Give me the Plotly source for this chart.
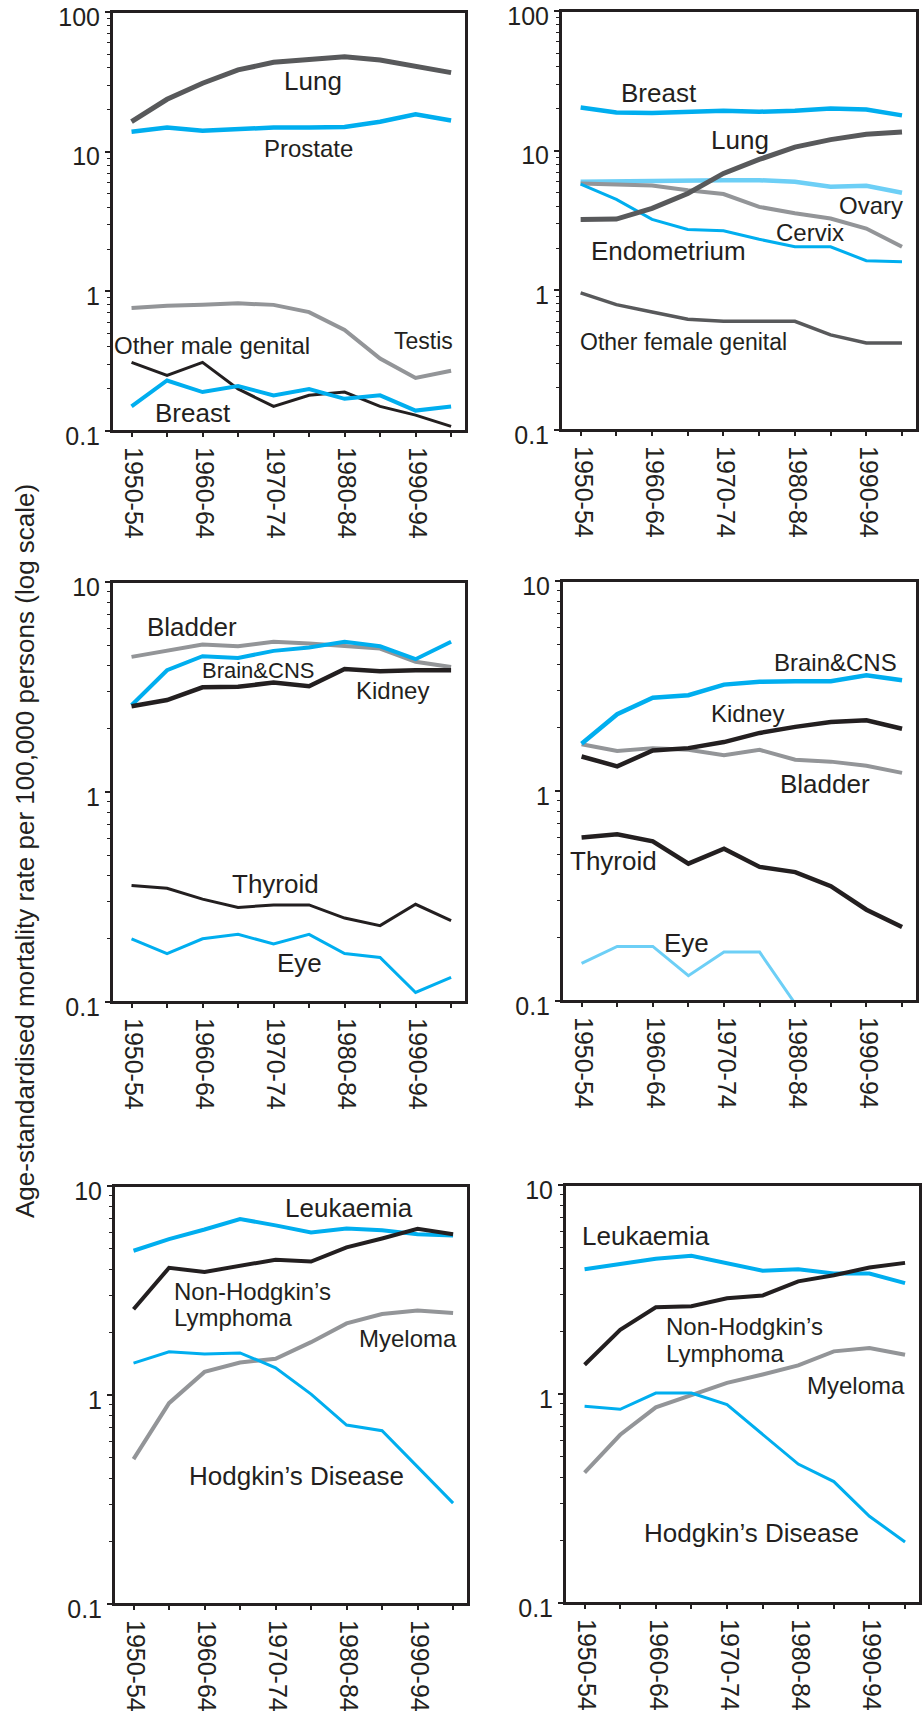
import plotly.graph_objects as go

# ---------------- data ----------------
periods = ["1950-54", "1955-59", "1960-64", "1965-69", "1970-74",
           "1975-79", "1980-84", "1985-89", "1990-94", "1995-99"]
period_labels = ["1950-54", "", "1960-64", "", "1970-74", "", "1980-84", "", "1990-94", ""]

# Panel 1 - males, genital / lung / breast
male_lung = [16.4, 23.7, 30.9, 38.5, 43.6, 45.8, 47.9, 45.3, 41.0, 36.8]
male_prostate = [13.9, 14.9, 14.1, 14.5, 14.9, 14.9, 15.0, 16.4, 18.5, 16.7]
male_testis = [0.76, 0.79, 0.80, 0.82, 0.80, 0.71, 0.53, 0.33, 0.24, 0.27]
male_other_genital = [0.31, 0.25, 0.31, 0.20, 0.15, 0.18, 0.19, 0.15, 0.13, 0.108]
male_breast = [0.15, 0.23, 0.19, 0.21, 0.18, 0.20, 0.17, 0.18, 0.14, 0.15]

# Panel 2 - females, genital / lung / breast
female_breast = [20.4, 18.8, 18.6, 19.0, 19.3, 19.0, 19.3, 20.0, 19.7, 17.9]
female_lung = [3.22, 3.24, 3.86, 4.94, 6.87, 8.65, 10.6, 12.0, 13.1, 13.6]
female_ovary = [5.98, 6.05, 6.12, 6.15, 6.15, 6.15, 5.98, 5.51, 5.60, 4.99]
female_cervix = [5.82, 5.75, 5.64, 5.21, 4.89, 3.96, 3.56, 3.27, 2.77, 2.05]
female_endometrium = [5.75, 4.48, 3.22, 2.73, 2.67, 2.32, 2.05, 2.05, 1.63, 1.60]
female_other_genital = [0.96, 0.79, 0.70, 0.62, 0.60, 0.60, 0.60, 0.48, 0.42, 0.42]

# Panel 3 - males, urinary / brain / thyroid / eye
male_bladder = [4.40, 4.70, 5.04, 4.94, 5.19, 5.09, 4.94, 4.82, 4.17, 3.94]
male_brain = [2.59, 3.80, 4.43, 4.35, 4.70, 4.88, 5.19, 4.94, 4.29, 5.19]
male_kidney = [2.56, 2.74, 3.15, 3.17, 3.32, 3.19, 3.85, 3.76, 3.80, 3.80]
male_thyroid = [0.359, 0.348, 0.309, 0.282, 0.290, 0.290, 0.251, 0.231, 0.292, 0.244]
male_eye = [0.200, 0.170, 0.200, 0.210, 0.189, 0.210, 0.170, 0.163, 0.111, 0.131]

# Panel 4 - females, urinary / brain / thyroid / eye
female_brain = [1.68, 2.32, 2.78, 2.86, 3.21, 3.31, 3.33, 3.33, 3.56, 3.37]
female_kidney = [1.46, 1.31, 1.56, 1.60, 1.71, 1.89, 2.02, 2.13, 2.17, 1.98]
female_bladder = [1.67, 1.55, 1.60, 1.57, 1.48, 1.57, 1.41, 1.38, 1.32, 1.22]
female_thyroid = [0.600, 0.622, 0.576, 0.451, 0.531, 0.435, 0.411, 0.352, 0.272, 0.225]
female_eye = [0.151, 0.182, 0.182, 0.132, 0.171, 0.171, 0.097, None, None, None]

# Panel 5 - males, haematological
male_leukaemia = [4.90, 5.57, 6.19, 6.95, 6.48, 6.00, 6.26, 6.14, 5.88, 5.79]
male_nhl = [2.57, 4.06, 3.88, 4.16, 4.44, 4.35, 5.09, 5.61, 6.24, 5.88]
male_myeloma = [0.493, 0.914, 1.29, 1.43, 1.49, 1.79, 2.20, 2.44, 2.54, 2.47]
male_hodgkin = [1.42, 1.61, 1.57, 1.59, 1.35, 1.01, 0.718, 0.675, 0.453, 0.304]

# Panel 6 - females, haematological
female_leukaemia = [3.95, 4.20, 4.44, 4.58, 4.20, 3.89, 3.95, 3.77, 3.77, 3.39]
female_nhl = [1.38, 2.03, 2.60, 2.63, 2.87, 2.96, 3.46, 3.70, 4.03, 4.24]
female_myeloma = [0.421, 0.638, 0.863, 0.993, 1.13, 1.24, 1.37, 1.60, 1.66, 1.54]
female_hodgkin = [0.873, 0.845, 1.01, 1.01, 0.889, 0.638, 0.462, 0.381, 0.260, 0.196]

y_title = "Age-standardised mortality rate per 100,000 persons (log scale)"

# ---------------- styles ----------------
W, H = 922, 1717
DARK = "#58595b"
CYAN = "#00aeef"
LCYAN = "#6dcff6"
GREY = "#939598"
BLACK = "#231f20"
FONT = "Liberation Sans, Arial, sans-serif"

# panel boxes in pixels: left, right, top, bottom, y-range (log10)
panels = [
    (112, 466, 12, 431, [-1, 2]),
    (561, 917, 11, 430, [-1, 2]),
    (112, 466, 582, 1002, [-1, 1]),
    (562, 917, 581, 1001, [-1, 1]),
    (114, 468, 1186, 1604, [-1, 1]),
    (565, 920, 1185, 1603, [-1, 1]),
]

# (panel, values, colour, width)
series = [
    (1, male_lung, DARK, 5), (1, male_prostate, CYAN, 4.5), (1, male_testis, GREY, 4),
    (1, male_other_genital, BLACK, 3), (1, male_breast, CYAN, 4),
    (2, female_breast, CYAN, 4.5), (2, female_ovary, LCYAN, 4.5), (2, female_cervix, GREY, 4),
    (2, female_endometrium, CYAN, 3), (2, female_lung, DARK, 5), (2, female_other_genital, DARK, 3.5),
    (3, male_bladder, GREY, 4), (3, male_brain, CYAN, 4), (3, male_kidney, BLACK, 4.5),
    (3, male_thyroid, BLACK, 3), (3, male_eye, CYAN, 3),
    (4, female_bladder, GREY, 4), (4, female_kidney, BLACK, 4.5), (4, female_brain, CYAN, 4.5),
    (4, female_thyroid, BLACK, 4.5), (4, female_eye, LCYAN, 3),
    (5, male_leukaemia, CYAN, 4), (5, male_myeloma, GREY, 4), (5, male_nhl, BLACK, 4),
    (5, male_hodgkin, CYAN, 3),
    (6, female_leukaemia, CYAN, 4), (6, female_myeloma, GREY, 4), (6, female_nhl, BLACK, 4),
    (6, female_hodgkin, CYAN, 3),
]

# (panel, text, x index, log10 y, font size, xanchor)
labels = [
    (1, "Lung", 5.11, 1.505, 26, "center"),
    (1, "Prostate", 4.97, 1.021, 24, "center"),
    (1, "Testis", 8.22, -0.352, 23, "center"),
    (1, "Other male genital", 2.27, -0.389, 24, "center"),
    (1, "Breast", 1.73, -0.869, 26, "center"),
    (2, "Breast", 2.19, 1.415, 26, "center"),
    (2, "Lung", 4.47, 1.077, 26, "center"),
    (2, "Ovary", 8.12, 0.608, 24, "center"),
    (2, "Cervix", 6.41, 0.411, 24, "center"),
    (2, "Endometrium", 2.46, 0.285, 26, "center"),
    (2, "Other female genital", 2.87, -0.370, 23, "center"),
    (3, "Bladder", 1.70, 0.784, 26, "center"),
    (3, "Brain&CNS", 3.57, 0.578, 22, "center"),
    (3, "Kidney", 7.35, 0.483, 24, "center"),
    (3, "Thyroid", 4.05, -0.437, 26, "center"),
    (3, "Eye", 4.72, -0.813, 26, "center"),
    (4, "Brain&CNS", 7.12, 0.610, 24, "center"),
    (4, "Kidney", 4.66, 0.371, 24, "center"),
    (4, "Bladder", 6.83, 0.033, 26, "center"),
    (4, "Thyroid", 0.91, -0.334, 26, "center"),
    (4, "Eye", 2.96, -0.723, 26, "center"),
    (5, "Leukaemia", 6.08, 0.893, 26, "center"),
    (5, "Non-Hodgkin\u2019s", 1.07, 0.495, 24, "left"),
    (5, "Lymphoma", 1.07, 0.369, 24, "left"),
    (5, "Myeloma", 7.74, 0.269, 24, "center"),
    (5, "Hodgkin\u2019s Disease", 4.60, -0.389, 26, "center"),
    (6, "Leukaemia", 1.72, 0.756, 26, "center"),
    (6, "Non-Hodgkin\u2019s", 2.22, 0.322, 24, "left"),
    (6, "Lymphoma", 2.22, 0.195, 24, "left"),
    (6, "Myeloma", 7.63, 0.039, 24, "center"),
    (6, "Hodgkin\u2019s Disease", 4.68, -0.666, 26, "center"),
]

fig = go.Figure()

for p, vals, col, w in series:
    sfx = "" if p == 1 else str(p)
    fig.add_trace(go.Scatter(
        x=periods, y=vals, mode="lines",
        line=dict(color=col, width=w), connectgaps=False,
        xaxis="x" + sfx, yaxis="y" + sfx, showlegend=False, hoverinfo="skip",
    ))

layout = {}
shapes = []
for i, (l, r, t, b, yr) in enumerate(panels, start=1):
    sfx = "" if i == 1 else str(i)
    decades = list(range(yr[0], yr[1] + 1))
    majors = [10 ** d for d in decades]
    minors = [k * 10 ** d for d in decades[:-1] for k in range(2, 10)]
    layout["xaxis" + sfx] = dict(
        domain=[l / W, r / W], anchor="y" + sfx, type="category",
        range=[-0.55, 9.42], tickmode="array", tickvals=periods, ticktext=period_labels,
        tickangle=90, ticks="outside", ticklen=4, tickwidth=1.5, tickcolor=BLACK,
        ticklabelstandoff=5, ticklabelshift=2, automargin=False, ticklabeloverflow="allow",
        showline=True, mirror=True, linecolor=BLACK, linewidth=2,
        showgrid=False, zeroline=False,
        tickfont=dict(family=FONT, size=25, color=BLACK),
    )
    layout["yaxis" + sfx] = dict(
        domain=[1 - b / H, 1 - t / H], anchor="x" + sfx, type="log",
        range=yr, tickmode="array", tickvals=majors,
        ticktext=[("%g" % v) for v in majors],
        ticks="outside", ticklen=5, tickwidth=1.5, tickcolor=BLACK,
        ticklabelstandoff=0, ticklabelshift=5, automargin=False, ticklabeloverflow="allow",
        minor=dict(tickmode="array", tickvals=minors, ticks="outside", ticklen=3,
                   tickwidth=1, tickcolor=BLACK, showgrid=False),
        showline=True, mirror=True, linecolor=BLACK, linewidth=2,
        showgrid=False, zeroline=False,
        tickfont=dict(family=FONT, size=25, color=BLACK),
    )
    shapes.append(dict(
        type="rect", xref="x" + sfx + " domain", yref="y" + sfx + " domain",
        x0=0, x1=1, y0=0, y1=1, line=dict(color=BLACK, width=2),
        fillcolor="rgba(0,0,0,0)", layer="above",
    ))

annotations = []
for p, text, xi, ly, fs, xa in labels:
    sfx = "" if p == 1 else str(p)
    annotations.append(dict(
        text=text, x=xi, y=ly, xref="x" + sfx, yref="y" + sfx,
        xanchor=xa, yanchor="middle", showarrow=False,
        font=dict(family=FONT, size=fs, color=BLACK),
    ))
annotations.append(dict(
    text=y_title, x=25 / W, y=1 - 851 / H, xref="paper", yref="paper",
    xanchor="center", yanchor="middle", textangle=-90, showarrow=False,
    font=dict(family=FONT, size=26, color=BLACK),
))

fig.update_layout(
    width=W, height=H, margin=dict(l=0, r=0, t=0, b=0, autoexpand=False),
    paper_bgcolor="white", plot_bgcolor="white",
    annotations=annotations, shapes=shapes, showlegend=False,
    **layout,
)

fig.write_html(
    "out.html",
    config={"displayModeBar": False},
    post_script="document.body.style.margin='0';document.body.style.padding='0';",
)
